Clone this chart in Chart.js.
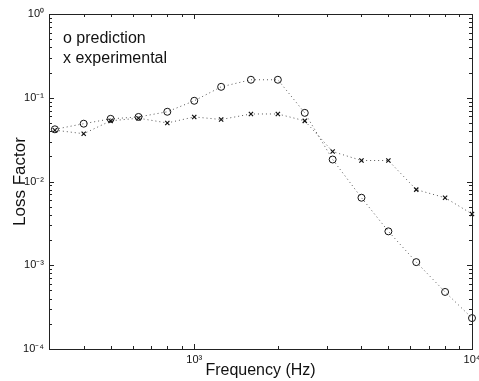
<!DOCTYPE html>
<html>
<head>
<meta charset="utf-8">
<script src="https://cdn.jsdelivr.net/npm/chart.js@4"></script>
<style>
  html, body { margin: 0; padding: 0; background: #fff; }
  #wrap { width: 479px; height: 381px; }
</style>
</head>
<body>
<div id="wrap"><canvas id="lossChart" width="479" height="381"></canvas></div>
<script>
// third-octave band centre frequencies (Hz)
const freqs = [315, 400, 500, 630, 800, 1000, 1250, 1600, 2000, 2500, 3150, 4000, 5000, 6300, 8000, 10000];
const prediction = [0.042, 0.049, 0.056, 0.059, 0.068, 0.092, 0.135, 0.164, 0.164, 0.066, 0.0183, 0.0064, 0.00254, 0.00109, 0.00048, 0.000234];
const experimental = [0.041, 0.0372, 0.053, 0.057, 0.050, 0.059, 0.055, 0.064, 0.064, 0.053, 0.0228, 0.0178, 0.0178, 0.0080, 0.0064, 0.0041];

// tick labels
const xTickValues = [1000, 10000];
const xTickLabels = ['10³', '10⁴'];
const yTickValues = [0.0001, 0.001, 0.01, 0.1, 1];
const yTickLabels = ['10⁻⁴', '10⁻³', '10⁻²', '10⁻¹', '10⁰'];

const legendLines = ['o prediction', 'x experimental'];

const FONT = "'Liberation Sans', Arial, sans-serif";

// minor + major tick positions for a log range
function logTicks(min, max) {
    const out = [];
    for (let e = Math.floor(Math.log10(min)); e <= Math.ceil(Math.log10(max)); e++) {
        for (let m = 1; m < 10; m++) {
            const v = m * Math.pow(10, e);
            if (v >= min * 0.999 && v <= max * 1.001) out.push({ v: v, major: m === 1 });
        }
    }
    return out;
}

// frame with inward ticks on all four sides, plus the text legend
const framePlugin = {
    id: 'frame',
    afterDatasetsDraw(chart) {
        const { ctx, chartArea: a, scales } = chart;
        const xs = scales.x, ys = scales.y;
        ctx.save();
        ctx.strokeStyle = '#222';
        ctx.lineWidth = 1;
        ctx.strokeRect(a.left + 0.5, a.top + 0.5, a.right - a.left, a.bottom - a.top);
        ctx.beginPath();
        logTicks(xs.min, xs.max).forEach(t => {
            const px = Math.round(xs.getPixelForValue(t.v)) + 0.5;
            const len = t.major ? 5 : 3;
            ctx.moveTo(px, a.bottom); ctx.lineTo(px, a.bottom - len);
            ctx.moveTo(px, a.top); ctx.lineTo(px, a.top + len);
        });
        logTicks(ys.min, ys.max).forEach(t => {
            const py = Math.round(ys.getPixelForValue(t.v)) + 0.5;
            const len = t.major ? 5 : 3;
            ctx.moveTo(a.left, py); ctx.lineTo(a.left + len, py);
            ctx.moveTo(a.right, py); ctx.lineTo(a.right - len, py);
        });
        ctx.stroke();

        ctx.fillStyle = '#111';
        ctx.font = '16px ' + FONT;
        ctx.textBaseline = 'alphabetic';
        legendLines.forEach((s, i) => ctx.fillText(s, 63, 43 + i * 20));
        ctx.restore();
    }
};

const ctx = document.getElementById('lossChart').getContext('2d');
new Chart(ctx, {
    type: 'line',
    data: {
        datasets: [{
            label: 'prediction',
            data: freqs.map((f, i) => ({ x: f, y: prediction[i] })),
            borderColor: '#555',
            borderWidth: 1,
            borderDash: [1, 3],
            pointStyle: 'circle',
            pointRadius: 3.5,
            pointBorderWidth: 1,
            pointBorderColor: '#111',
            pointBackgroundColor: 'rgba(0,0,0,0)',
            fill: false,
            tension: 0
        }, {
            label: 'experimental',
            data: freqs.map((f, i) => ({ x: f, y: experimental[i] })),
            borderColor: '#555',
            borderWidth: 1,
            borderDash: [1, 3],
            pointStyle: 'crossRot',
            pointRadius: 3,
            pointBorderWidth: 1.2,
            pointBorderColor: '#111',
            fill: false,
            tension: 0
        }]
    },
    options: {
        responsive: false,
        animation: false,
        clip: false,
        layout: { padding: { left: 0, right: 7, top: 14, bottom: 0 } },
        plugins: { legend: { display: false }, tooltip: { enabled: false } },
        scales: {
            x: {
                type: 'logarithmic',
                min: 300,
                max: 10000,
                grid: { display: false, drawTicks: false },
                border: { display: false },
                ticks: {
                    autoSkip: false,
                    maxRotation: 0,
                    padding: 4,
                    color: '#111',
                    font: { family: FONT, size: 11 },
                    callback: v => { const i = xTickValues.indexOf(v); return i >= 0 ? xTickLabels[i] : ''; }
                },
                afterBuildTicks: s => { s.ticks = xTickValues.map(v => ({ value: v })); },
                afterFit: s => { s.height = 32; s.paddingLeft = 0; s.paddingRight = 0; },
                title: {
                    display: true,
                    text: 'Frequency (Hz)',
                    color: '#111',
                    font: { family: FONT, size: 16 },
                    padding: { top: 0, bottom: 1 }
                }
            },
            y: {
                type: 'logarithmic',
                min: 0.0001,
                max: 1,
                grid: { display: false, drawTicks: false },
                border: { display: false },
                ticks: {
                    autoSkip: false,
                    padding: 5,
                    color: '#111',
                    font: { family: FONT, size: 11 },
                    callback: v => { const i = yTickValues.indexOf(v); return i >= 0 ? yTickLabels[i] : ''; }
                },
                afterBuildTicks: s => { s.ticks = yTickValues.map(v => ({ value: v })); },
                afterFit: s => { s.width = 49; s.paddingTop = 0; s.paddingBottom = 0; },
                title: {
                    display: true,
                    text: 'Loss Factor',
                    color: '#111',
                    font: { family: FONT, size: 17 },
                    padding: { top: 10, bottom: 0 }
                }
            }
        }
    },
    plugins: [framePlugin]
});
</script>
</body>
</html>
